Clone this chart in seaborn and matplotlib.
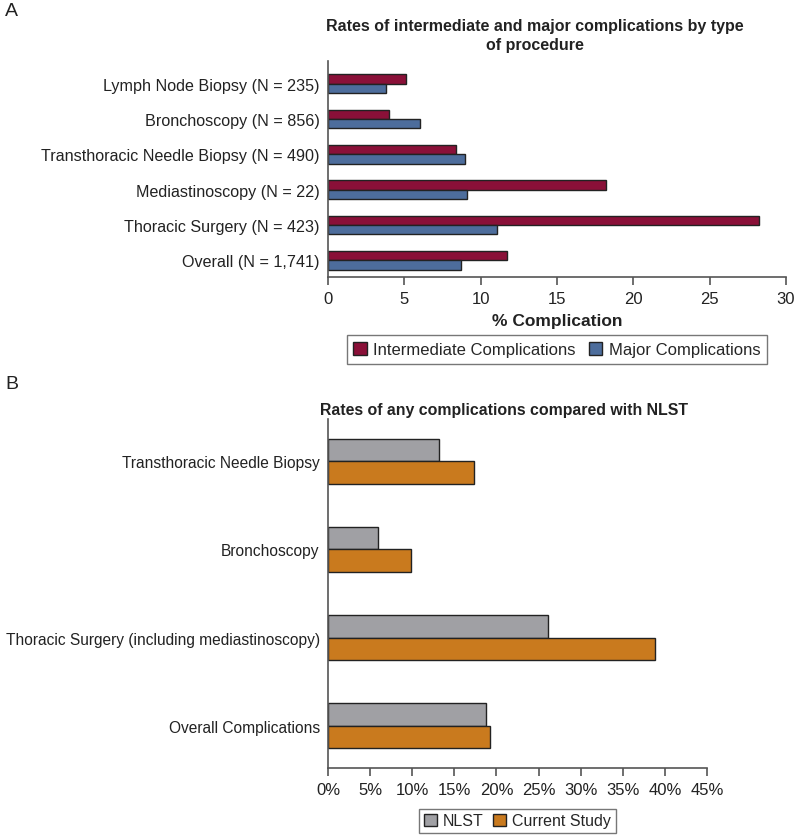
import matplotlib
matplotlib.use("Agg")
import matplotlib.pyplot as plt
import matplotlib.ticker as mticker
import pandas as pd
import seaborn as sns

# Panel A data
procedures = ["Lymph Node Biopsy (N = 235)", "Bronchoscopy (N = 856)",
              "Transthoracic Needle Biopsy (N = 490)", "Mediastinoscopy (N = 22)",
              "Thoracic Surgery (N = 423)", "Overall (N = 1,741)"]
intermediate = [5.1, 4.0, 8.4, 18.2, 28.2, 11.7]
major = [3.8, 6.0, 9.0, 9.1, 11.1, 8.7]

# Panel B data
groups_b = ["Transthoracic Needle Biopsy", "Bronchoscopy",
            "Thoracic Surgery (including mediastinoscopy)", "Overall Complications"]
nlst = [13.2, 5.9, 26.1, 18.8]
current = [17.3, 9.8, 38.8, 19.2]

df_a = pd.DataFrame({
    "procedure": procedures * 2,
    "rate": intermediate + major,
    "type": ["Intermediate Complications"] * 6 + ["Major Complications"] * 6,
})
df_b = pd.DataFrame({
    "group": groups_b * 2,
    "rate": nlst + current,
    "study": ["NLST"] * 4 + ["Current Study"] * 4,
})

sns.set_theme(style="white")
plt.rcParams["font.family"] = ["Liberation Sans", "DejaVu Sans"]
SPINE = "#555555"
TXT = "#222222"

fig = plt.figure(figsize=(7.95, 8.37), dpi=100)
W, H = 795, 837


def axes_px(left, top, right, bottom):
    return fig.add_axes([left / W, 1 - bottom / H, (right - left) / W, (bottom - top) / H])


def style_axis(ax):
    sns.despine(ax=ax)
    for s in ["left", "bottom"]:
        ax.spines[s].set_color(SPINE)
        ax.spines[s].set_linewidth(1.2)
    ax.tick_params(axis="x", bottom=True, length=6, width=1.2, color=SPINE, pad=4,
                   labelsize=12, labelcolor=TXT)
    ax.tick_params(axis="y", left=False, length=0, pad=6, labelcolor=TXT)
    ax.set_ylabel("")


# ---- Panel A
ax1 = axes_px(328, 62, 786, 278)
sns.barplot(data=df_a, y="procedure", x="rate", hue="type", orient="h", width=0.52,
            palette=["#8A1038", "#4D6D9C"], saturation=1, edgecolor="#222222", linewidth=1,
            ax=ax1, legend=True)
ax1.set_xlim(0, 30)
ax1.set_ylim(5.47, -0.64)
ax1.set_xticks(range(0, 31, 5))
style_axis(ax1)
for lab in ax1.get_yticklabels():
    lab.set_fontsize(11.6)
ax1.set_xlabel("% Complication", fontsize=12.5, fontweight="bold", color=TXT, labelpad=5)
h1, l1 = ax1.get_legend_handles_labels()
ax1.get_legend().remove()
fig.legend(h1, l1, loc="center", bbox_to_anchor=(557 / W, 1 - 350.5 / H), ncol=2,
           fontsize=12, frameon=True, fancybox=False, edgecolor="#555555",
           handlelength=0.8, handleheight=0.8, handletextpad=0.4, columnspacing=0.8,
           borderpad=0.4)
fig.text(535 / W, 1 - 36 / H, "Rates of intermediate and major complications by type\nof procedure",
         ha="center", va="center", fontsize=11.5, fontweight="bold",
         color=TXT, linespacing=1.35)
fig.text(5 / W, 1 - 12 / H, "A", fontsize=14, color=TXT, va="center")

# ---- Panel B
ax2 = axes_px(328, 420, 707, 769)
sns.barplot(data=df_b, y="group", x="rate", hue="study", orient="h", width=0.51,
            palette=["#A0A0A4", "#C97A1E"], saturation=1, edgecolor="#222222", linewidth=1,
            ax=ax2, legend=True)
ax2.set_xlim(0, 45)
ax2.set_ylim(3.48, -0.48)
ax2.set_xticks(range(0, 46, 5))
ax2.xaxis.set_major_formatter(mticker.FuncFormatter(lambda v, p: f"{v:.0f}%"))
style_axis(ax2)
for lab in ax2.get_yticklabels():
    lab.set_fontsize(11.2)
ax2.set_xlabel("")
h2, l2 = ax2.get_legend_handles_labels()
ax2.get_legend().remove()
fig.legend(h2, l2, loc="center", bbox_to_anchor=(517.5 / W, 1 - 822 / H), ncol=2,
           fontsize=11.5, frameon=True, fancybox=False, edgecolor="#555555",
           handlelength=0.8, handleheight=0.8, handletextpad=0.4, columnspacing=0.6,
           borderpad=0.3)
fig.text(504 / W, 1 - 410 / H, "Rates of any complications compared with NLST",
         ha="center", va="center", fontsize=11.4, fontweight="bold", color=TXT)
fig.text(5 / W, 1 - 385 / H, "B", fontsize=14, color=TXT, va="center")

fig.savefig("out.png", dpi=100)
